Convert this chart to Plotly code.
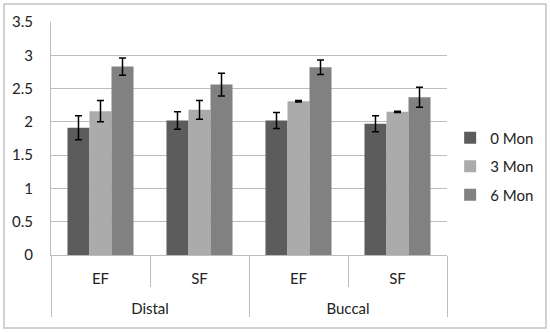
import plotly.graph_objects as go

sites = ["Distal", "Distal", "Buccal", "Buccal"]
surfaces = ["EF", "SF", "EF", "SF"]
series_names = ["0 Mon", "3 Mon", "6 Mon"]
values = {
    "0 Mon": [1.91, 2.02, 2.02, 1.97],
    "3 Mon": [2.16, 2.18, 2.31, 2.15],
    "6 Mon": [2.83, 2.56, 2.82, 2.37],
}
errors = {
    "0 Mon": [0.18, 0.13, 0.12, 0.12],
    "3 Mon": [0.16, 0.14, 0.01, 0.01],
    "6 Mon": [0.13, 0.17, 0.11, 0.15],
}
colors = {"0 Mon": "#5c5c5c", "3 Mon": "#ababab", "6 Mon": "#818181"}

FONT = "Lato, Open Sans, sans-serif"
# a blank second line under each inner label gives room between the two label rows
inner_labels = [s + "<br>\u00a0" for s in surfaces]

fig = go.Figure()
for i, s in enumerate(series_names):
    fig.add_trace(go.Bar(
        name=s, x=[sites, inner_labels], y=values[s],
        marker=dict(color=colors[s], line=dict(width=0)),
        error_y=dict(type="data", array=errors[s], color="black", thickness=1.5, width=3.5),
        legendgroup=s,
    ))

fig.update_layout(
    width=550, height=332,
    margin=dict(l=51, r=103, t=22, b=77, autoexpand=False),
    paper_bgcolor="white", plot_bgcolor="white",
    barmode="group", bargap=0.333, bargroupgap=0,
    font=dict(family=FONT, size=14, color="#222"),
    legend=dict(x=1.008, y=0.38, xanchor="left", yanchor="middle",
                font=dict(size=15, family=FONT), tracegroupgap=6,
                itemwidth=30, bgcolor="rgba(0,0,0,0)"),
    showlegend=True,
)
fig.update_yaxes(range=[0, 3.5], dtick=0.5, showgrid=True, gridcolor="#bcbcbc", gridwidth=1,
                 showline=True, linecolor="#bcbcbc", linewidth=1, zeroline=False,
                 tickfont=dict(size=15, family=FONT), ticklabelstandoff=14, ticks="",
                 automargin=False)
fig.update_xaxes(showline=True, linecolor="#bcbcbc", linewidth=1,
                 ticks="outside", ticklen=31, tickcolor="#bcbcbc", tickwidth=1,
                 tickson="boundaries", showdividers=True, dividercolor="#bcbcbc", dividerwidth=1,
                 tickfont=dict(size=15, family=FONT), ticklabelstandoff=10,
                 automargin=False)
fig.add_shape(type="rect", xref="paper", yref="paper",
              x0=-0.1187, x1=1.25, y0=-0.313, y1=1.077,
              line=dict(color="#c4c4c4", width=1.5), layer="below")
fig.write_html("out.html", config={"displayModeBar": False},
               post_script="document.body.style.margin='0px';")
